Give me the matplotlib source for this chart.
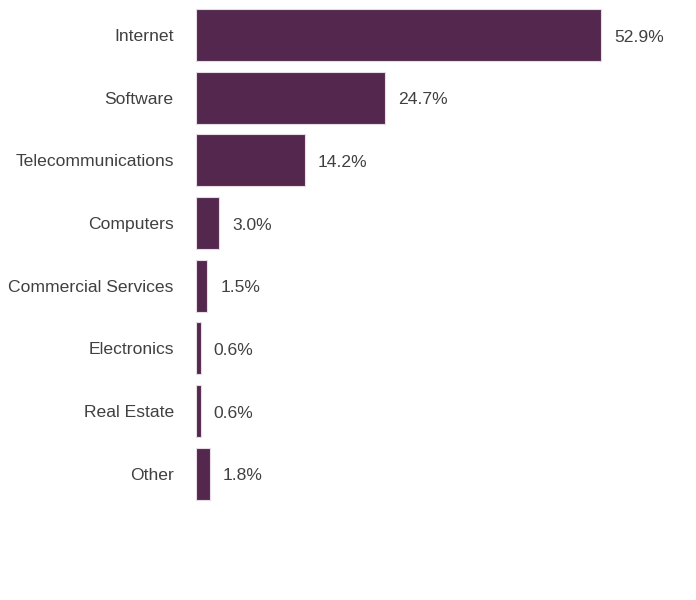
import matplotlib.pyplot as plt
from matplotlib.transforms import offset_copy

categories = ["Internet", "Software", "Telecommunications", "Computers",
              "Commercial Services", "Electronics", "Real Estate", "Other"]
values = [52.9, 24.7, 14.2, 3.0, 1.5, 0.6, 0.6, 1.8]

plt.rcParams['font.family'] = ['Liberation Sans', 'DejaVu Sans']

fig = plt.figure(figsize=(6.96, 6.0), dpi=100)
ax = fig.add_axes([196 / 696, 95 / 600, 484 / 696, 501.4 / 600])

ypos = range(len(categories))
ax.barh(ypos, values, height=0.83, color='#54284e', edgecolor='#e6dde4', linewidth=0.8)

for y, v in zip(ypos, values):
    ax.annotate(f"{v:.1f}%", xy=(v, y), xytext=(9.5, -1.5), textcoords='offset points',
                va='center', ha='left', fontsize=12.6, color='#404040')

ax.set_yticks(list(ypos))
ax.set_yticklabels(categories, fontsize=12.6, color='#404040')
for lbl in ax.get_yticklabels():
    lbl.set_transform(offset_copy(lbl.get_transform(), fig=fig, x=0, y=-1.5, units='points'))
ax.set_ylim(len(categories) - 0.5, -0.5)
ax.set_xlim(0, 484 / 7.66)
ax.tick_params(axis='y', length=0, pad=16)
ax.set_xticks([])
for s in ax.spines.values():
    s.set_visible(False)

fig.savefig("out.png", dpi=100)
